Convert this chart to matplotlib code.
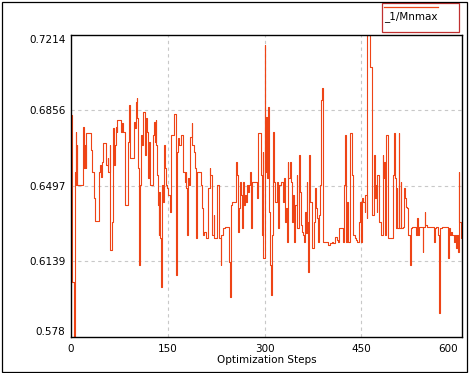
import matplotlib
matplotlib.use('Agg')
import matplotlib.pyplot as plt
from matplotlib.patches import Rectangle
from matplotlib.lines import Line2D

# step index where the value changes, and the value it takes
steps = [0, 1, 2, 4, 6, 7, 8, 9, 10, 18, 20, 22, 23, 24, 31, 33, 36, 37, 43, 45,
         47, 48, 50, 55, 57, 58, 60, 61, 64, 65, 66, 68, 69, 71, 72, 78, 79, 80, 83, 89,
         90, 91, 97, 99, 100, 102, 103, 104, 105, 106, 107, 108, 110, 111, 113, 115, 116, 118, 120, 121,
         122, 123, 127, 129, 130, 131, 132, 134, 135, 136, 137, 138, 139, 141, 143, 144, 146, 147, 149, 151,
         153, 155, 157, 159, 160, 162, 163, 165, 166, 168, 170, 173, 174, 176, 178, 179, 180, 182, 183, 185,
         187, 188, 190, 192, 193, 195, 201, 203, 204, 206, 210, 212, 213, 215, 216, 218, 219, 221, 222, 226,
         227, 229, 230, 232, 233, 236, 238, 245, 247, 248, 250, 256, 257, 259, 260, 262, 264, 265, 267, 268,
         270, 271, 273, 274, 276, 278, 279, 281, 289, 290, 295, 296, 297, 298, 300, 301, 302, 303, 304, 306,
         307, 309, 310, 311, 313, 314, 316, 319, 321, 322, 325, 328, 330, 331, 333, 334, 336, 337, 339, 341,
         342, 344, 345, 347, 350, 351, 353, 355, 356, 358, 359, 361, 362, 364, 365, 366, 367, 369, 370, 371,
         373, 374, 376, 378, 380, 381, 383, 384, 386, 387, 388, 389, 390, 399, 401, 404, 406, 409, 412, 414,
         416, 421, 423, 424, 426, 427, 429, 430, 432, 436, 437, 440, 442, 444, 447, 448, 450, 451, 453, 455,
         456, 458, 459, 463, 466, 467, 469, 471, 472, 474, 475, 477, 478, 480, 483, 484, 485, 487, 488, 491,
         499, 500, 502, 503, 505, 506, 508, 509, 511, 512, 514, 516, 518, 519, 521, 522, 525, 527, 529, 535,
         537, 538, 540, 545, 546, 548, 549, 552, 563, 564, 565, 569, 570, 571, 572, 575, 584, 586, 587, 589,
         590, 594, 595, 597, 598, 600, 601, 602, 604, 606]
mnmax = [0.6834, 0.6502, 0.6043, 0.5780, 0.6565, 0.6755, 0.6502, 0.6692, 0.6502, 0.6779, 0.6581, 0.6692, 0.6581, 0.6747, 0.6668, 0.6565, 0.6438, 0.6331, 0.6565, 0.6597,
         0.6541, 0.6612, 0.6700, 0.6597, 0.6628, 0.6565, 0.6692, 0.6191, 0.6328, 0.6771, 0.6597, 0.6692, 0.6779, 0.6755, 0.6810, 0.6755, 0.6794, 0.6755, 0.6407, 0.6707,
         0.6882, 0.6628, 0.6802, 0.6771, 0.6897, 0.6913, 0.6818, 0.6581, 0.6248, 0.6122, 0.6502, 0.6739, 0.6692, 0.6850, 0.6850, 0.6644, 0.6818, 0.6755, 0.6533, 0.6707,
         0.6549, 0.6502, 0.6739, 0.6802, 0.6707, 0.6810, 0.6692, 0.6549, 0.6407, 0.6264, 0.6470, 0.6248, 0.6019, 0.6502, 0.6423, 0.6692, 0.6581, 0.6502, 0.6486, 0.6454,
         0.6375, 0.6739, 0.6739, 0.6787, 0.6839, 0.6739, 0.6074, 0.6660, 0.6723, 0.6692, 0.6739, 0.6644, 0.6565, 0.6517, 0.6565, 0.6486, 0.6264, 0.6533, 0.6502, 0.6731,
         0.6794, 0.6692, 0.6660, 0.6581, 0.6248, 0.6565, 0.6502, 0.6391, 0.6264, 0.6280, 0.6248, 0.6359, 0.6486, 0.6581, 0.6549, 0.6328, 0.6264, 0.6359, 0.6248, 0.6423,
         0.6502, 0.6328, 0.6248, 0.6122, 0.6264, 0.6296, 0.6304, 0.6138, 0.5971, 0.6407, 0.6423, 0.6612, 0.6549, 0.6280, 0.6391, 0.6517, 0.6454, 0.6296, 0.6517, 0.6407,
         0.6454, 0.6423, 0.6502, 0.6470, 0.6502, 0.6565, 0.6296, 0.6517, 0.6438, 0.6747, 0.6549, 0.6264, 0.6660, 0.6153, 0.7167, 0.6565, 0.6826, 0.6612, 0.6533, 0.6874,
         0.6375, 0.6122, 0.5979, 0.6264, 0.6755, 0.6517, 0.6423, 0.6517, 0.6296, 0.6502, 0.6517, 0.6423, 0.6533, 0.6328, 0.6391, 0.6233, 0.6612, 0.6533, 0.6612, 0.6517,
         0.6328, 0.6454, 0.6233, 0.6407, 0.6549, 0.6296, 0.6644, 0.6470, 0.6312, 0.6280, 0.6264, 0.6233, 0.6375, 0.6272, 0.6517, 0.6328, 0.6090, 0.6644, 0.6502, 0.6423,
         0.6359, 0.6201, 0.6328, 0.6486, 0.6391, 0.6343, 0.6233, 0.6359, 0.6502, 0.6866, 0.6905, 0.6961, 0.6233, 0.6217, 0.6225, 0.6233, 0.6225, 0.6256, 0.6240, 0.6233,
         0.6296, 0.6233, 0.6502, 0.6739, 0.6233, 0.6423, 0.6328, 0.6233, 0.6747, 0.6549, 0.6264, 0.6248, 0.6240, 0.6233, 0.6328, 0.6423, 0.6233, 0.6438, 0.6423, 0.6375,
         0.6454, 0.6343, 0.7214, 0.7064, 0.6723, 0.6359, 0.6644, 0.6438, 0.6502, 0.6375, 0.6549, 0.6423, 0.6328, 0.6264, 0.6644, 0.6533, 0.6612, 0.6264, 0.6739, 0.6248,
         0.6549, 0.6747, 0.6533, 0.6296, 0.6486, 0.6296, 0.6747, 0.6296, 0.6517, 0.6296, 0.6304, 0.6486, 0.6438, 0.6399, 0.6391, 0.6264, 0.6122, 0.6296, 0.6304, 0.6264,
         0.6343, 0.6264, 0.6304, 0.6185, 0.6304, 0.6375, 0.6312, 0.6304, 0.6233, 0.6296, 0.6304, 0.6264, 0.6082, 0.5892, 0.6296, 0.6304, 0.6153, 0.6296, 0.6264, 0.6280,
         0.6264, 0.6233, 0.6264, 0.6201, 0.6264, 0.6185, 0.6565, 0.6328, 0.6248, 0.6248]

xticks = [0, 150, 300, 450, 600]
yticks = [0.578, 0.6139, 0.6497, 0.6856, 0.7214]
ytick_labels = ['0.578', '0.6139', '0.6497', '0.6856', '0.7214']

line_color = '#EE4416'
W, H = 471, 373

fig = plt.figure(figsize=(W / 100, H / 100), dpi=100)
ax = fig.add_axes([71 / W, (H - 337) / H, (462 - 71) / W, (337 - 35) / H])

# inner grid only
for x in xticks[1:-1]:
    ax.axvline(x, color='#c8c8c8', lw=0.8, ls=(0, (3, 3)), zorder=0)
for y in yticks[1:-1]:
    ax.axhline(y, color='#c8c8c8', lw=0.8, ls=(0, (3, 3)), zorder=0)

ax.plot(steps, mnmax, drawstyle='steps-post', color=line_color, lw=0.8)

ax.set_xlim(0, 606)
ax.set_ylim(yticks[0], yticks[-1])
ax.set_xticks(xticks)
ax.set_yticks(yticks)
ax.set_yticklabels(ytick_labels)
ax.tick_params(length=0, labelsize=7.5, pad=4)
ax.tick_params(axis='x', pad=5)
ylabs = ax.get_yticklabels()
ylabs[0].set_va('bottom')
ylabs[-1].set_va('top')
xlabs = ax.get_xticklabels()
xlabs[-1].set_ha('right')
for s in ax.spines.values():
    s.set_color('black')
    s.set_linewidth(1.0)
ax.set_xlabel('Optimization Steps', fontsize=7.5, labelpad=1)

# legend box, top right
fig.add_artist(Rectangle((382 / W, 1 - 32 / H), (459 - 382) / W, (32 - 3) / H,
                         transform=fig.transFigure, fill=False, edgecolor='#c03030', lw=0.9))
fig.add_artist(Line2D([384 / W, 438 / W], [1 - 7 / H, 1 - 7 / H],
                      transform=fig.transFigure, color=line_color, lw=0.9))
fig.text(384 / W, 1 - 17 / H, '_1/Mnmax', fontsize=7.5, va='center', ha='left')

# outer frame
fig.add_artist(Rectangle((1.5 / W, 1.5 / H), (467 - 1.5) / W, (371 - 1.5) / H,
                         transform=fig.transFigure, fill=False, edgecolor='black', lw=0.9))

fig.savefig('out.png', dpi=100)
